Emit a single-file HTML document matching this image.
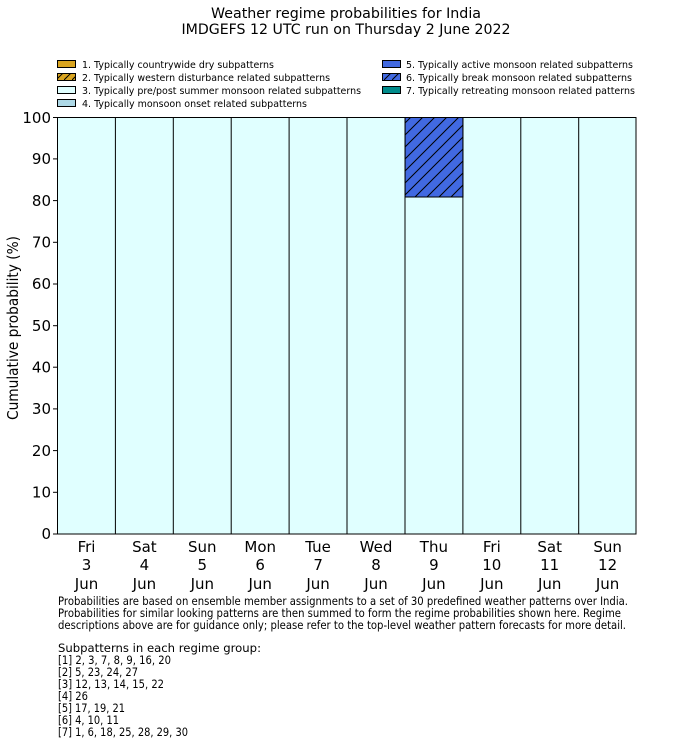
<!DOCTYPE html>
<html><head><meta charset="utf-8"><style>body{margin:0;background:#fff}svg{display:block}text{font-family:"DejaVu Sans","Liberation Sans",sans-serif;fill:#000}</style></head><body>
<svg width="700" height="754" viewBox="0 0 700 754" xmlns="http://www.w3.org/2000/svg">
<defs><pattern id="h" patternUnits="userSpaceOnUse" width="12" height="12"><rect width="12" height="12" fill="#4169e1"/><path d="M-3,3 L3,-3 M0,12 L12,0 M9,15 L15,9" stroke="#000" stroke-width="1"/></pattern>
<pattern id="h2" patternUnits="userSpaceOnUse" width="8" height="8"><rect width="8" height="8" fill="#daa520"/><path d="M0,8 L8,0" stroke="#000" stroke-width="1"/></pattern>
<pattern id="h3" patternUnits="userSpaceOnUse" width="8" height="8"><rect width="8" height="8" fill="#4169e1"/><path d="M0,8 L8,0" stroke="#000" stroke-width="1"/></pattern></defs>
<text x="346" y="18" font-size="14.5" text-anchor="middle" textLength="270" lengthAdjust="spacingAndGlyphs">Weather regime probabilities for India</text>
<text x="346" y="34" font-size="14.5" text-anchor="middle" textLength="329" lengthAdjust="spacingAndGlyphs">IMDGEFS 12 UTC run on Thursday 2 June 2022</text>
<g font-size="10">
<rect x="57.5" y="60.5" width="18" height="7" fill="#daa520" stroke="#000"/><text x="82" y="68" textLength="192" lengthAdjust="spacingAndGlyphs">1. Typically countrywide dry subpatterns</text>
<rect x="57.5" y="73.5" width="18" height="7" fill="url(#h2)" stroke="#000"/><text x="82" y="81" textLength="248" lengthAdjust="spacingAndGlyphs">2. Typically western disturbance related subpatterns</text>
<rect x="57.5" y="86.5" width="18" height="7" fill="#e0ffff" stroke="#000"/><text x="82" y="94" textLength="279" lengthAdjust="spacingAndGlyphs">3. Typically pre/post summer monsoon related subpatterns</text>
<rect x="57.5" y="99.5" width="18" height="7" fill="#add8e6" stroke="#000"/><text x="82" y="107" textLength="225" lengthAdjust="spacingAndGlyphs">4. Typically monsoon onset related subpatterns</text>
<rect x="382.5" y="60.5" width="18" height="7" fill="#4169e1" stroke="#000"/><text x="406" y="68" textLength="227" lengthAdjust="spacingAndGlyphs">5. Typically active monsoon related subpatterns</text>
<rect x="382.5" y="73.5" width="18" height="7" fill="url(#h3)" stroke="#000"/><text x="406" y="81" textLength="226" lengthAdjust="spacingAndGlyphs">6. Typically break monsoon related subpatterns</text>
<rect x="382.5" y="86.5" width="18" height="7" fill="#008b8b" stroke="#000"/><text x="406" y="94" textLength="229" lengthAdjust="spacingAndGlyphs">7. Typically retreating monsoon related patterns</text>
</g>
<g stroke="#000" stroke-width="1">
<rect x="57.5" y="117.5" width="578.5" height="416.5" fill="#e0ffff"/>
<rect x="405.1" y="117.5" width="57.9" height="79.5" fill="url(#h)"/>
<line x1="405.1" y1="197" x2="463" y2="197"/>
<line x1="115.4" y1="117.5" x2="115.4" y2="534"/><line x1="173.3" y1="117.5" x2="173.3" y2="534"/><line x1="231.2" y1="117.5" x2="231.2" y2="534"/><line x1="289.1" y1="117.5" x2="289.1" y2="534"/><line x1="347" y1="117.5" x2="347" y2="534"/><line x1="405" y1="117.5" x2="405" y2="534"/><line x1="462.9" y1="117.5" x2="462.9" y2="534"/><line x1="520.8" y1="117.5" x2="520.8" y2="534"/><line x1="578.7" y1="117.5" x2="578.7" y2="534"/>
</g>
<g stroke="#000"><line x1="53" y1="534" x2="57" y2="534"/><line x1="53" y1="492.3" x2="57" y2="492.3"/><line x1="53" y1="450.6" x2="57" y2="450.6"/><line x1="53" y1="408.9" x2="57" y2="408.9"/><line x1="53" y1="367.2" x2="57" y2="367.2"/><line x1="53" y1="325.7" x2="57" y2="325.7"/><line x1="53" y1="284" x2="57" y2="284"/><line x1="53" y1="242.3" x2="57" y2="242.3"/><line x1="53" y1="200.6" x2="57" y2="200.6"/><line x1="53" y1="158.9" x2="57" y2="158.9"/><line x1="53" y1="117.5" x2="57" y2="117.5"/></g>
<g font-size="15" text-anchor="end">
<text x="51" y="539">0</text><text x="51" y="497.5">10</text><text x="51" y="456">20</text><text x="51" y="414">30</text><text x="51" y="372.5">40</text><text x="51" y="331">50</text><text x="51" y="289">60</text><text x="51" y="247.5">70</text><text x="51" y="206">80</text><text x="51" y="164">90</text><text x="51" y="123">100</text>
</g>
<text transform="translate(18,328) rotate(-90)" font-size="15" text-anchor="middle" textLength="184" lengthAdjust="spacingAndGlyphs">Cumulative probability (%)</text>
<g font-size="15" text-anchor="middle">
<text x="86.5" y="552">Fri</text><text x="86.5" y="570">3</text><text x="86.5" y="589">Jun</text>
<text x="144.4" y="552">Sat</text><text x="144.4" y="570">4</text><text x="144.4" y="589">Jun</text>
<text x="202.3" y="552">Sun</text><text x="202.3" y="570">5</text><text x="202.3" y="589">Jun</text>
<text x="260.2" y="552">Mon</text><text x="260.2" y="570">6</text><text x="260.2" y="589">Jun</text>
<text x="318.1" y="552">Tue</text><text x="318.1" y="570">7</text><text x="318.1" y="589">Jun</text>
<text x="376" y="552">Wed</text><text x="376" y="570">8</text><text x="376" y="589">Jun</text>
<text x="433.9" y="552">Thu</text><text x="433.9" y="570">9</text><text x="433.9" y="589">Jun</text>
<text x="491.8" y="552">Fri</text><text x="491.8" y="570">10</text><text x="491.8" y="589">Jun</text>
<text x="549.7" y="552">Sat</text><text x="549.7" y="570">11</text><text x="549.7" y="589">Jun</text>
<text x="607.6" y="552">Sun</text><text x="607.6" y="570">12</text><text x="607.6" y="589">Jun</text>
</g>
<g font-size="11.5">
<text x="58" y="605" textLength="570" lengthAdjust="spacingAndGlyphs">Probabilities are based on ensemble member assignments to a set of 30 predefined weather patterns over India.</text>
<text x="58" y="617" textLength="563" lengthAdjust="spacingAndGlyphs">Probabilities for similar looking patterns are then summed to form the regime probabilities shown here. Regime</text>
<text x="58" y="629" textLength="568" lengthAdjust="spacingAndGlyphs">descriptions above are for guidance only; please refer to the top-level weather pattern forecasts for more detail.</text>
<text x="58" y="652" textLength="203" lengthAdjust="spacingAndGlyphs">Subpatterns in each regime group:</text>
<text x="58" y="664" textLength="113" lengthAdjust="spacingAndGlyphs">[1] 2, 3, 7, 8, 9, 16, 20</text>
<text x="58" y="676" textLength="80" lengthAdjust="spacingAndGlyphs">[2] 5, 23, 24, 27</text>
<text x="58" y="688" textLength="106" lengthAdjust="spacingAndGlyphs">[3] 12, 13, 14, 15, 22</text>
<text x="58" y="700" textLength="30" lengthAdjust="spacingAndGlyphs">[4] 26</text>
<text x="58" y="712" textLength="67" lengthAdjust="spacingAndGlyphs">[5] 17, 19, 21</text>
<text x="58" y="724" textLength="61" lengthAdjust="spacingAndGlyphs">[6] 4, 10, 11</text>
<text x="58" y="736" textLength="130" lengthAdjust="spacingAndGlyphs">[7] 1, 6, 18, 25, 28, 29, 30</text>
</g>
</svg>
</body></html>
